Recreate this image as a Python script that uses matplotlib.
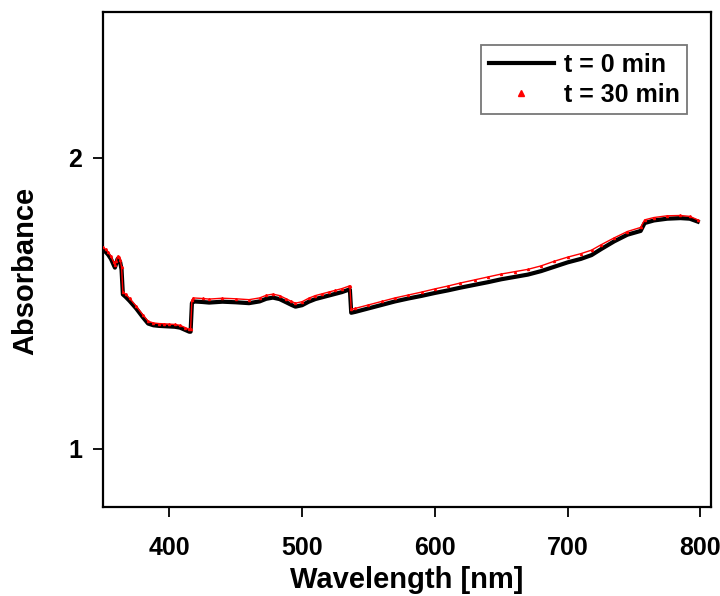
import matplotlib
matplotlib.use("Agg")
import matplotlib.pyplot as plt
from matplotlib.lines import Line2D

plt.rcParams['font.family'] = ['Liberation Sans', 'DejaVu Sans']
plt.rcParams['font.weight'] = 'bold'

# UV-Vis absorbance spectra (wavelength in nm)
wl_0 = [350, 352, 354, 356, 358, 359, 360, 361, 362, 363, 364, 365, 367, 370,
        375, 380, 384, 388, 392, 396, 400, 404, 408, 412, 415, 416, 417, 418,
        425, 430, 440, 450, 460, 468, 473, 478, 483, 488, 492, 495, 500, 505,
        510, 515, 520, 525, 530, 535, 536, 537, 540, 550, 560, 570, 580, 590,
        600, 610, 619, 630, 640, 650, 660, 670, 680, 690, 700, 710, 718, 725,
        735, 745, 755, 758, 765, 775, 785, 792, 798]
abs_0 = [1.682, 1.676, 1.666, 1.652, 1.632, 1.622, 1.636, 1.652, 1.650, 1.640,
         1.615, 1.530, 1.522, 1.508, 1.482, 1.452, 1.430, 1.424, 1.422, 1.421,
         1.420, 1.419, 1.416, 1.408, 1.402, 1.402, 1.500, 1.506, 1.504, 1.502,
         1.505, 1.503, 1.500, 1.506, 1.515, 1.519, 1.514, 1.503, 1.494, 1.488,
         1.493, 1.505, 1.514, 1.520, 1.526, 1.532, 1.538, 1.546, 1.546, 1.467,
         1.470, 1.482, 1.494, 1.506, 1.516, 1.525, 1.535, 1.544, 1.553, 1.563,
         1.572, 1.582, 1.590, 1.598, 1.610, 1.625, 1.640, 1.652, 1.665, 1.685,
         1.712, 1.735, 1.748, 1.775, 1.784, 1.790, 1.792, 1.790, 1.780]

wl_30 = wl_0
abs_30 = [1.692, 1.685, 1.675, 1.661, 1.641, 1.631, 1.645, 1.661, 1.659, 1.649,
          1.624, 1.539, 1.531, 1.517, 1.490, 1.460, 1.438, 1.432, 1.430, 1.429,
          1.428, 1.427, 1.424, 1.416, 1.410, 1.410, 1.511, 1.518, 1.516, 1.514,
          1.517, 1.515, 1.512, 1.518, 1.527, 1.531, 1.526, 1.515, 1.506, 1.500,
          1.505, 1.517, 1.526, 1.532, 1.538, 1.544, 1.550, 1.558, 1.558, 1.479,
          1.482, 1.494, 1.506, 1.518, 1.528, 1.538, 1.549, 1.559, 1.569, 1.580,
          1.590, 1.600, 1.608, 1.616, 1.628, 1.644, 1.658, 1.670, 1.682, 1.700,
          1.724, 1.746, 1.760, 1.786, 1.794, 1.800, 1.801, 1.798, 1.786]

x_ticks = [400, 500, 600, 700, 800]
y_ticks = [1, 2]

fig = plt.figure(figsize=(7.2, 5.96), dpi=100)
ax = fig.add_axes([0.143, 0.1493, 0.8445, 0.8307])

ax.plot(wl_0, abs_0, color='black', lw=3.0, zorder=2)
ax.plot(wl_30, abs_30, color='red', lw=1.0, marker='^', ms=1.5,
        markevery=1, zorder=3)

ax.set_xlim(350, 808)
ax.set_ylim(0.8, 2.5)
ax.set_xticks(x_ticks)
ax.set_yticks(y_ticks)
ax.tick_params(axis='both', which='major', direction='out', length=7,
               width=1.3, labelsize=18, top=False, right=False)
ax.tick_params(axis='x', pad=14)
ax.tick_params(axis='y', pad=8)
for lab in ax.get_xticklabels() + ax.get_yticklabels():
    lab.set_fontweight('bold')
for sp in ax.spines.values():
    sp.set_linewidth(1.6)

ax.set_xlabel('Wavelength [nm]', fontsize=21, fontweight='bold')
ax.xaxis.set_label_coords(0.5, -0.119)
ax.set_ylabel('Absorbance', fontsize=21, fontweight='bold')
ax.yaxis.set_label_coords(-0.104, 0.477)

handles = [Line2D([], [], color='black', lw=3.0),
           Line2D([], [], color='red', lw=0, marker='^', ms=4)]
leg = ax.legend(handles, ['t = 0 min', 't = 30 min'], loc='upper right',
                bbox_to_anchor=(0.981, 0.958), frameon=True,
                fancybox=False, edgecolor='#555555', handlelength=2.6,
                handletextpad=0.4, borderpad=0.3, labelspacing=0.25,
                prop={'weight': 'bold', 'size': 18})
leg.get_frame().set_linewidth(1.3)

fig.savefig('out.png', dpi=100, facecolor='white')
